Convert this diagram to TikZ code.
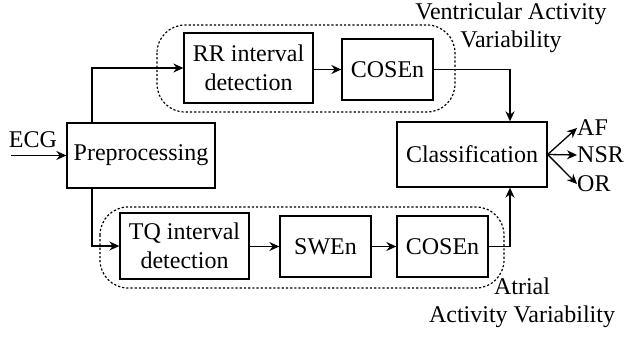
\documentclass[tikz,border=0pt]{standalone}
\usepackage{fontspec}
\setmainfont{Liberation Serif}
\newfontfamily\diagfont{Liberation Serif}
\usetikzlibrary{arrows.meta}
\begin{document}
\begin{tikzpicture}[x=1pt,y=-1pt,
  every node/.style={font=\diagfont\fontsize{24}{28.5}\selectfont, inner sep=0pt},
  block/.style={draw, line width=1.3pt, align=center},
  group/.style={draw, dash pattern=on 2.2pt off 2pt, line width=1.2pt, rounded corners=28pt},
  arr/.style={line width=1.3pt, -{Stealth[length=10pt,width=9pt]}},
  lbl/.style={align=center}]
  \useasboundingbox (0,0) rectangle (624,337);

  % processing blocks
  \node[block, minimum width=148pt, minimum height=65pt] (pre) at (141,155.5) {Preprocessing};
  \node[block, minimum width=129pt, minimum height=70pt] (rr)  at (248.5,68) {RR interval\\detection};
  \node[block, minimum width=91pt,  minimum height=61pt] (cv)  at (387.5,69.5) {COSEn};
  \node[block, minimum width=150pt, minimum height=65pt] (cls) at (472,154.5) {Classification};
  \node[block, minimum width=129pt, minimum height=66pt] (tq)  at (184.5,246) {TQ interval\\detection};
  \node[block, minimum width=91pt,  minimum height=61pt] (sw)  at (325.5,246.5) {SWEn};
  \node[block, minimum width=91pt,  minimum height=61pt] (ca)  at (442.5,246.5) {COSEn};

  % feature groups
  \draw[group] (157,25) rectangle (455,112);
  \draw[group] (100,207) rectangle (504,288);
  \node[lbl] (vlab) at (511,28) {Ventricular Activity\\Variability};
  \node[lbl] (alab) at (522,303) {Atrial\\Activity Variability};

  % input
  \node (ecg) at (33,140) {ECG};
  \coordinate (in) at (11,155.5);
  \draw[arr] (in) -- (pre.west);

  % branches from preprocessing
  \coordinate (bx) at (92,0);
  \draw[arr] (pre.north -| bx) |- (rr.west);
  \draw[arr] (pre.south -| bx) |- (tq.west);

  % chains
  \draw[arr] (rr.east |- cv.west) -- (cv.west);
  \draw[arr] (tq.east |- sw.west) -- (sw.west);
  \draw[arr] (sw) -- (ca);

  % into classification
  \coordinate (cx) at (510,0);
  \draw[arr] (cv.east) -| (cls.north -| cx);
  \draw[arr] (ca.east) -| (cls.south -| cx);

  % outputs
  \node[anchor=west] (af)  at (577,128) {AF};
  \node[anchor=west] (nsr) at (577,155) {NSR};
  \node[anchor=west] (or)  at (577,184) {OR};
  \draw[arr] (cls.east) -- (af.west);
  \draw[arr] (cls.east) -- (nsr.west);
  \draw[arr] (cls.east) -- (or.west);
\end{tikzpicture}
\end{document}
